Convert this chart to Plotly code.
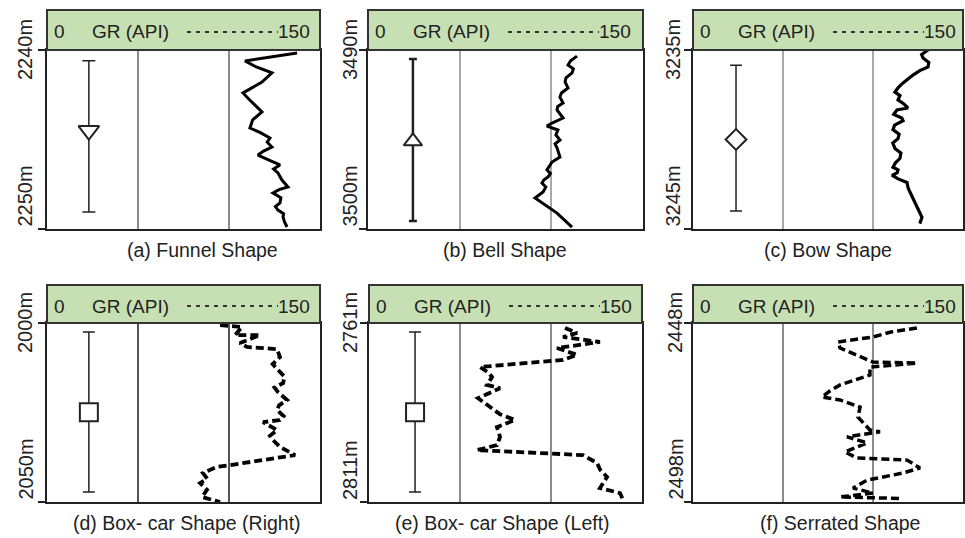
import plotly.graph_objects as go

W, H = 965, 538

# ---------------- data ----------------
titles = ["(a) Funnel Shape", "(b) Bell Shape", "(c) Bow Shape",
          "(d) Box- car Shape (Right)", "(e) Box- car Shape (Left)", "(f) Serrated Shape"]
depth_top = [2240, 3490, 3235, 2000, 2761, 2448]
depth_bottom = [2250, 3500, 3245, 2050, 2811, 2498]
gr_range = [0, 150]
gr_grid = [50, 100]
header_label = "GR (API)"
header_min = "0"
header_max = "150"

a_depth = [2240.17, 2240.61, 2240.95, 2241.28, 2241.79, 2242.05, 2242.40, 2242.75, 2243.10, 2243.46,
           2243.90, 2244.36, 2244.60, 2244.92, 2245.15, 2245.42, 2245.65, 2245.87, 2246.15, 2246.42,
           2246.65, 2246.87, 2247.25, 2247.65, 2247.80, 2247.99, 2248.25, 2248.55, 2248.75, 2248.94,
           2249.15, 2249.33, 2249.60, 2249.89]
a_gr = [137.4, 108.8, 115.0, 123.6, 118.1, 114.0, 107.7, 111.0, 114.5, 118.1,
        113.0, 111.5, 117.0, 122.5, 121.0, 123.6, 119.0, 115.9, 122.0, 128.0,
        124.5, 126.9, 129.0, 132.4, 127.5, 124.2, 128.5, 128.0, 125.5, 126.9,
        130.0, 129.7, 130.5, 131.9]

b_depth = [3490.34, 3490.60, 3490.84, 3491.05, 3491.28, 3491.55, 3491.79, 3492.12, 3492.40, 3492.63,
           3492.96, 3493.15, 3493.35, 3493.60, 3493.80, 3494.08, 3494.25, 3494.47, 3494.75, 3495.03,
           3495.25, 3495.47, 3495.75, 3495.98, 3496.26, 3496.50, 3496.70, 3496.90, 3497.09, 3497.25,
           3497.43, 3497.65, 3497.93, 3498.27, 3499.11, 3499.89]
b_gr = [114.0, 110.5, 109.1, 112.0, 111.3, 108.0, 107.5, 109.1, 105.5, 104.7,
        106.4, 103.5, 103.1, 105.0, 106.4, 100.4, 97.6, 103.6, 102.5, 104.7,
        102.0, 103.1, 104.0, 104.7, 100.4, 99.0, 97.6, 99.5, 98.2, 96.0,
        94.9, 97.0, 95.5, 91.1, 103.1, 111.3]

c_depth = [3235.00, 3235.25, 3235.45, 3235.70, 3235.95, 3236.15, 3236.40, 3236.60, 3236.84, 3237.10,
           3237.35, 3237.55, 3237.79, 3238.00, 3238.24, 3238.35, 3238.60, 3238.80, 3238.95, 3239.20,
           3239.45, 3239.70, 3239.95, 3240.20, 3240.50, 3240.75, 3241.05, 3241.30, 3241.55, 3241.70,
           3241.85, 3242.00, 3242.20, 3242.40, 3242.70, 3242.95, 3243.25, 3243.50, 3243.70, 3243.95,
           3244.35, 3244.70]
c_gr = [130.6, 127.0, 127.8, 131.0, 130.6, 126.0, 122.2, 119.5, 116.7, 114.0,
        112.2, 115.0, 113.9, 117.0, 119.4, 113.3, 111.5, 116.0, 116.7, 112.0,
        111.1, 114.5, 113.9, 111.0, 112.2, 115.5, 115.0, 112.5, 111.1, 113.9,
        113.5, 110.6, 114.0, 118.9, 119.5, 120.6, 122.0, 123.3, 124.0, 125.0,
        127.2, 126.0]

d_depth = [2000.6, 2001.1, 2003.4, 2003.4, 2005.6, 2006.7, 2007.3, 2009.5, 2011.5, 2013.1,
           2015.0, 2016.8, 2018.0, 2019.3, 2021.5, 2023.0, 2024.3, 2026.0, 2027.1, 2027.7,
           2029.9, 2031.5, 2032.7, 2034.6, 2036.9, 2039.7, 2040.2, 2041.9, 2043.5, 2044.7,
           2046.6, 2048.6, 2050.0]
d_gr = [95.1, 107.1, 103.3, 117.0, 106.0, 109.9, 126.4, 128.0, 124.0, 126.9,
        130.5, 129.7, 125.0, 126.9, 131.9, 127.5, 126.4, 130.0, 128.0, 118.7,
        126.4, 122.5, 124.2, 128.0, 136.3, 100.5, 93.4, 85.7, 88.0, 84.1,
        87.9, 85.2, 95.1]

e_depth = [2762.4, 2763.8, 2764.9, 2766.3, 2768.0, 2769.9, 2771.3, 2772.2, 2773.3, 2775.0,
           2776.1, 2778.3, 2779.2, 2782.0, 2784.5, 2786.5, 2788.1, 2790.1, 2792.8, 2795.1,
           2796.5, 2797.3, 2797.9, 2800.1, 2802.0, 2804.0, 2807.1, 2808.5, 2810.4]
e_gr = [107.7, 114.3, 106.6, 126.9, 103.3, 114.3, 106.6, 84.6, 61.0, 66.0,
        67.6, 64.8, 72.0, 59.9, 66.5, 72.0, 80.2, 70.3, 72.0, 70.3,
        59.3, 88.5, 117.6, 125.3, 127.0, 130.8, 126.9, 137.9, 139.6]

f_depth = [2449.4, 2450.5, 2451.9, 2453.3, 2455.0, 2457.5, 2458.9, 2459.2, 2460.3, 2462.5,
           2465.3, 2467.0, 2468.7, 2469.5, 2471.5, 2474.3, 2477.9, 2478.4, 2479.8, 2481.5,
           2484.0, 2485.7, 2486.3, 2488.5, 2489.9, 2491.9, 2494.1, 2495.5, 2496.6, 2497.0]
f_gr = [124.4, 110.0, 100.0, 80.6, 81.7, 92.8, 100.0, 124.4, 98.3, 98.3,
        81.7, 76.0, 71.7, 81.7, 92.8, 91.7, 98.3, 103.9, 85.6, 96.7,
        84.4, 91.1, 118.9, 126.1, 116.7, 96.7, 88.9, 100.0, 81.7, 115.0]

curve_depths = [a_depth, b_depth, c_depth, d_depth, e_depth, f_depth]
curve_grs = [a_gr, b_gr, c_gr, d_gr, e_gr, f_gr]

sym_gr = [23.0, 24.5, 23.9, 23.0, 25.3, None]
sym_depth = [2244.5, 3495.1, 3240.0, 2024.9, 2785.9, None]
sym_top = [2240.6, 3490.5, 3235.85, 2002.5, 2763.5, None]
sym_bottom = [2249.05, 3499.55, 3244.0, 2047.2, 2808.2, None]
sym_shape = ["triangle-down", "triangle-up", "diamond", "square", "square", None]

# ---------------- layout / styles ----------------
frames_x = [(47, 320), (368, 643), (693, 963), (47, 320), (369, 642), (693, 963)]
rows_y = [(10, 50, 229), (285, 323, 502)]  # header top, plot top, plot bottom
title_x = [202, 505, 828, 187, 502, 840]
title_y = [250, 523]
label_x = [25, 350, 673, 25, 350, 675]
curve_dash = ["solid", "solid", "solid", "8px,4px", "8px,4px", "8px,4px"]
curve_width = [3, 3, 3.2, 3.8, 3.8, 3.5]
grid_color = ["#8c8c8c", "#a8a8a8", "#a8a8a8", "#555555", "#8c8c8c", "#8c8c8c"]
sym_size = [18, 16, 16, 18, 18, None]
bar_thick = [1.5, 2.5, 1.5, 1.5, 1.5, None]
bar_width = [6.5, 4, 6, 6, 6, None]

FONT = "Liberation Sans, Arial, sans-serif"
GREEN = "#c6e0b4"
INK = "#222222"


def px_x(p):
    return p / W


def px_y(p):
    return 1 - p / H


fig = go.Figure()
shapes = []
annotations = []
layout_axes = {}

for i in range(6):
    sfx = "" if i == 0 else str(i + 1)
    l, r = frames_x[i]
    htop, ptop, pbot = rows_y[i // 3]

    layout_axes["xaxis" + sfx] = dict(
        domain=[px_x(l), px_x(r)], range=gr_range, anchor="y" + sfx,
        tickvals=gr_grid, showticklabels=False, ticks="",
        showgrid=True, gridcolor=grid_color[i], gridwidth=1.5,
        zeroline=False, showline=True, mirror=True, linecolor=INK, linewidth=2,
        fixedrange=True)
    layout_axes["yaxis" + sfx] = dict(
        domain=[px_y(pbot), px_y(ptop)],
        range=[depth_bottom[i], depth_top[i]], anchor="x" + sfx,
        tickvals=[depth_top[i], depth_bottom[i]], showticklabels=False,
        ticks="outside", ticklen=7, tickwidth=2, tickcolor=INK,
        showgrid=False, zeroline=False, showline=True, mirror=True,
        linecolor=INK, linewidth=2, fixedrange=True)

    # GR curve
    fig.add_trace(go.Scatter(
        x=curve_grs[i], y=curve_depths[i], mode="lines",
        line=dict(color="black", width=curve_width[i], dash=curve_dash[i]),
        xaxis="x" + sfx, yaxis="y" + sfx, showlegend=False, hoverinfo="skip"))

    # interval symbol
    if sym_shape[i] is not None:
        fig.add_trace(go.Scatter(
            x=[sym_gr[i]], y=[sym_depth[i]], mode="markers",
            marker=dict(symbol=sym_shape[i], size=sym_size[i], color="white",
                        line=dict(color=INK, width=2)),
            error_y=dict(type="data", symmetric=False,
                         array=[sym_bottom[i] - sym_depth[i]],
                         arrayminus=[sym_depth[i] - sym_top[i]],
                         color=INK, thickness=bar_thick[i], width=bar_width[i]),
            xaxis="x" + sfx, yaxis="y" + sfx, showlegend=False, hoverinfo="skip"))

    # header box
    shapes.append(dict(type="rect", xref="paper", yref="paper",
                       x0=px_x(l), x1=px_x(r), y0=px_y(ptop), y1=px_y(htop),
                       fillcolor=GREEN, line=dict(color="#333333", width=2),
                       layer="above"))
    hc = (htop + ptop) / 2 + 2
    shapes.append(dict(type="line", xref="paper", yref="paper",
                       x0=px_x(l + 140), x1=px_x(l + 231), y0=px_y(hc), y1=px_y(hc),
                       line=dict(color="#333333", width=2, dash="4px,5px"),
                       layer="above"))
    annotations.append(dict(text=header_min, xref="paper", yref="paper",
                            x=px_x(l + 5), y=px_y(hc), xanchor="left", yanchor="middle",
                            showarrow=False, font=dict(family=FONT, size=19, color=INK)))
    annotations.append(dict(text=header_label, xref="paper", yref="paper",
                            x=px_x(l + 43), y=px_y(hc), xanchor="left", yanchor="middle",
                            showarrow=False, font=dict(family=FONT, size=19, color=INK)))
    annotations.append(dict(text=header_max, xref="paper", yref="paper",
                            x=px_x(l + 265), y=px_y(hc), xanchor="right", yanchor="middle",
                            showarrow=False, font=dict(family=FONT, size=19, color=INK)))

    # depth labels
    annotations.append(dict(text=f"{depth_top[i]}m", xref="paper", yref="y" + sfx,
                            x=px_x(label_x[i]), y=depth_top[i], xanchor="center",
                            yanchor="middle", textangle=-90, showarrow=False,
                            font=dict(family=FONT, size=20, color=INK)))
    annotations.append(dict(text=f"{depth_bottom[i]}m", xref="paper", yref="y" + sfx,
                            x=px_x(label_x[i]), y=depth_bottom[i], xanchor="center",
                            yanchor="bottom", textangle=-90, showarrow=False,
                            font=dict(family=FONT, size=20, color=INK)))

    # panel title
    annotations.append(dict(text=titles[i], xref="paper", yref="paper",
                            x=px_x(title_x[i]), y=px_y(title_y[i // 3]),
                            xanchor="center", yanchor="middle", showarrow=False,
                            font=dict(family=FONT, size=19.5, color=INK)))

fig.update_layout(
    width=W, height=H, margin=dict(l=0, r=0, t=0, b=0),
    paper_bgcolor="white", plot_bgcolor="white",
    shapes=shapes, annotations=annotations, showlegend=False,
    **layout_axes)

fig.write_html("out.html", config={"displayModeBar": False})
